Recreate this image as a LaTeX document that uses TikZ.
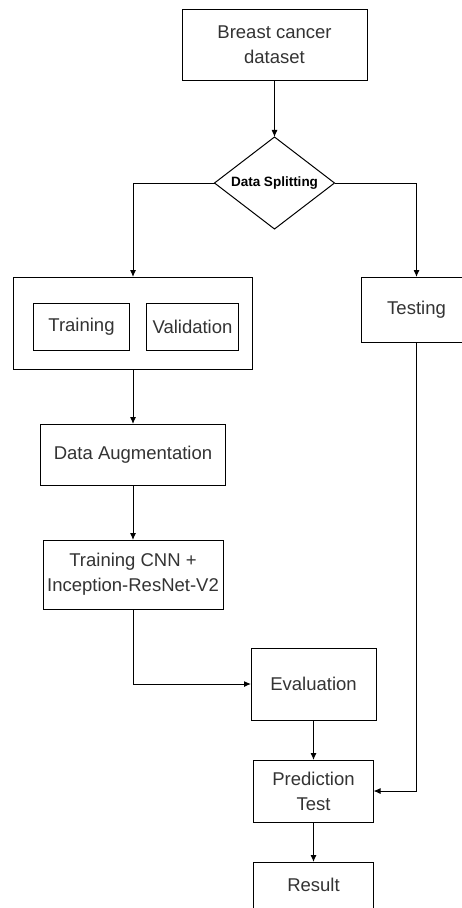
\documentclass[tikz,border=0pt]{standalone}
\usepackage{fontspec}
\setmainfont{Liberation Sans}
\usetikzlibrary{shapes,arrows.meta,positioning,shapes.geometric}

\begin{document}
\begin{tikzpicture}[
        x=1pt, y=1pt,
        node distance=40pt,
        block/.style={rectangle, draw=black, fill=white, line width=1pt, outer sep=0pt, text=black!80, align=center, inner sep=2pt, font=\fontsize{18.5}{25}\selectfont},
        decision/.style={diamond, draw=black, fill=white, line width=1pt, outer sep=0pt, aspect=1.3, inner sep=1pt, minimum width=120pt, minimum height=92pt, font=\fontsize{13.5}{15}\selectfont\bfseries},
        line/.style={draw, -{Latex[length=7pt,width=6pt]}, line width=1pt}
    ]
        \useasboundingbox (0,0) rectangle (462,-908);
        \clip (0,0) rectangle (462,-908);

        % Input and splitting
        \node[block, minimum width=185pt, minimum height=71pt] (dataset) at (274.5,-44.5) {Breast cancer\\dataset};
        \node[decision] (split) [below=57pt of dataset] {Data Splitting};
        \node[block, minimum width=239pt, minimum height=92pt] (trainval) [below=48pt of split, xshift=-141.5pt] {};
        \node[block, minimum width=96pt, minimum height=47pt] (train) [right=20pt of trainval.west, yshift=-3.5pt] {Training};
        \node[block, minimum width=92pt, minimum height=47pt] (valid) [right=17pt of train] {Validation};
        \node[block, minimum width=110pt, minimum height=65pt] (testing) [below=48pt of split, xshift=142pt] {Testing};

        % Training
        \node[block, minimum width=185pt, minimum height=61pt] (augment) [below=55pt of trainval] {Data Augmentation};
        \node[block, minimum width=180pt, minimum height=69pt] (cnn) [below=55pt of augment] {Training CNN +\\Inception-ResNet-V2};

        % Evaluation
        \node[block, minimum width=125pt, minimum height=72pt] (eval) [below right=39pt and 28pt of cnn] {Evaluation};
        \node[block, minimum width=120pt, minimum height=62pt] (predict) [below=40pt of eval] {Prediction\\Test};
        \node[block, minimum width=120pt, minimum height=46pt] (result) [below=40pt of predict] {Result};

        % Connections
        \draw[line] (dataset) -- (split);
        \draw[line] (split.west) -| (trainval.north);
        \draw[line] (split.east) -| (testing.north);
        \draw[line] (trainval) -- (augment);
        \draw[line] (augment) -- (cnn);
        \draw[line] (cnn.south) |- (eval.west);
        \draw[line] (eval) -- (predict);
        \draw[line] (testing.south) |- (predict.east);
        \draw[line] (predict) -- (result);
    \end{tikzpicture}
\end{document}
